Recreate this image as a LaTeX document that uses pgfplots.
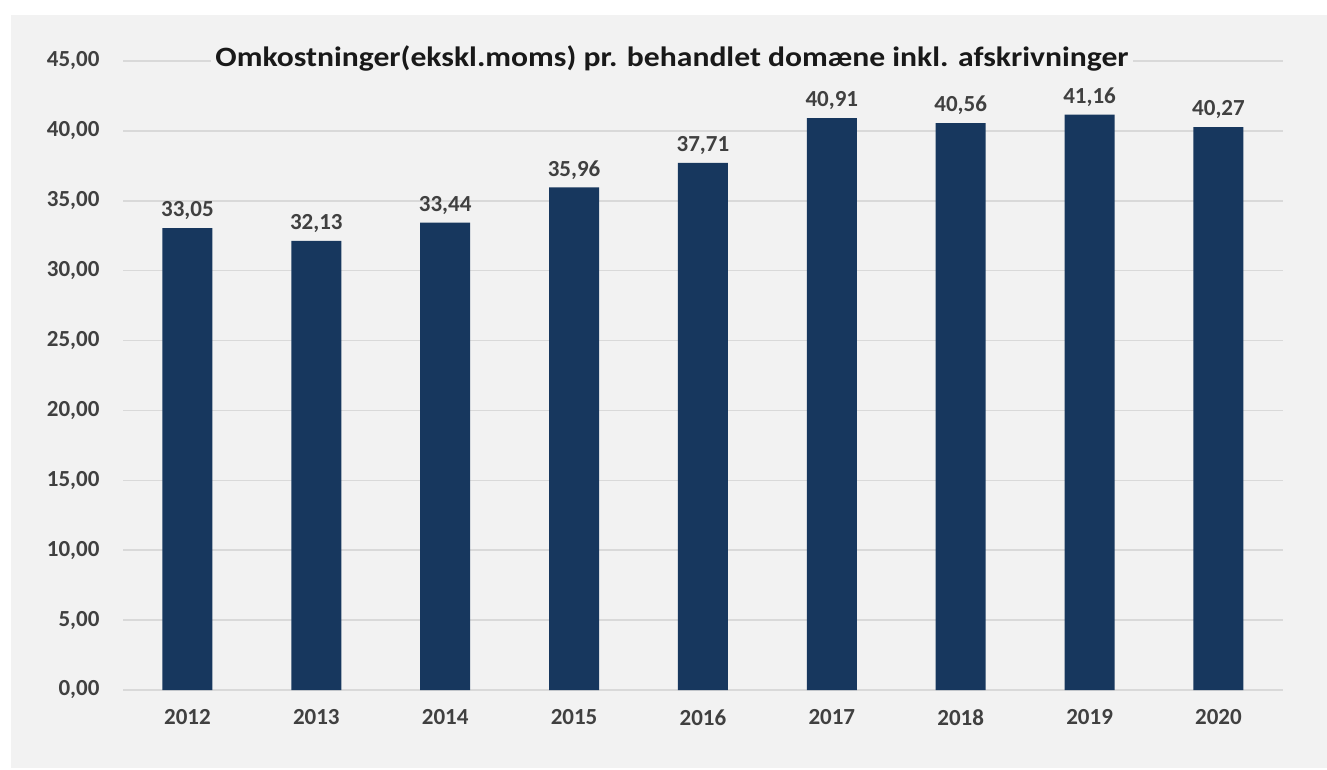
\documentclass[border=0pt]{standalone}
\usepackage{pgfplots}
\pgfplotsset{compat=1.18}
\usepackage{graphicx}
\usepackage{fontspec}
\setmainfont{Carlito}
\definecolor{bg}{HTML}{F2F2F2}
\definecolor{barc}{HTML}{17375E}
\definecolor{gridc}{HTML}{D9D9D9}
\definecolor{txt}{HTML}{404040}
\begin{document}
\begin{tikzpicture}
\useasboundingbox (0pt,0pt) rectangle (1327pt,769pt);
\fill[white] (0pt,0pt) rectangle (1327pt,769pt);
\fill[bg] (11pt,1pt) rectangle (1327pt,754pt);
\begin{axis}[
  at={(123pt,79pt)}, anchor=south west,
  scale only axis, width=1160pt, height=629pt,
  xmin=-0.5, xmax=8.5, ymin=0, ymax=45,
  axis line style={draw=none},
  major tick length=0pt,
  ytick={0,5,...,45},
  xtick={0,...,8},
  xticklabels={2012,2013,2014,2015,2016,2017,2018,2019,2020},
  ymajorgrids, grid style={gridc, line width=1.5pt},
  ybar, bar width=50pt,
  tick label style={font=\bfseries\fontsize{23}{23}\selectfont, text=txt},
  yticklabel style={/pgf/number format/fixed, /pgf/number format/fixed zerofill, /pgf/number format/precision=2, /pgf/number format/use comma, /pgf/number format/assume math mode=true, xshift=-20pt},
  xticklabel style={yshift=-16pt},
  nodes near coords={\pgfmathprintnumber[fixed,fixed zerofill,precision=2,use comma,assume math mode=true]{\pgfplotspointmeta}},
  every node near coord/.append style={font=\bfseries\fontsize{23}{23}\selectfont, text=txt, inner sep=0pt, yshift=8pt},
]
\addplot[fill=barc, draw=none] coordinates {
(0,33.05) (1,32.13) (2,33.44) (3,35.96) (4,37.71) (5,40.91) (6,40.56) (7,41.16) (8,40.27)};
\end{axis}
\node[fill=bg, font=\bfseries\fontsize{28}{28}\selectfont, text=black!90, inner xsep=4pt, inner ysep=2pt] at (672pt,711pt) {\scalebox{1.13}[1]{Omkostninger(ekskl.moms) pr. behandlet domæne inkl. afskrivninger}};
\end{tikzpicture}
\end{document}
